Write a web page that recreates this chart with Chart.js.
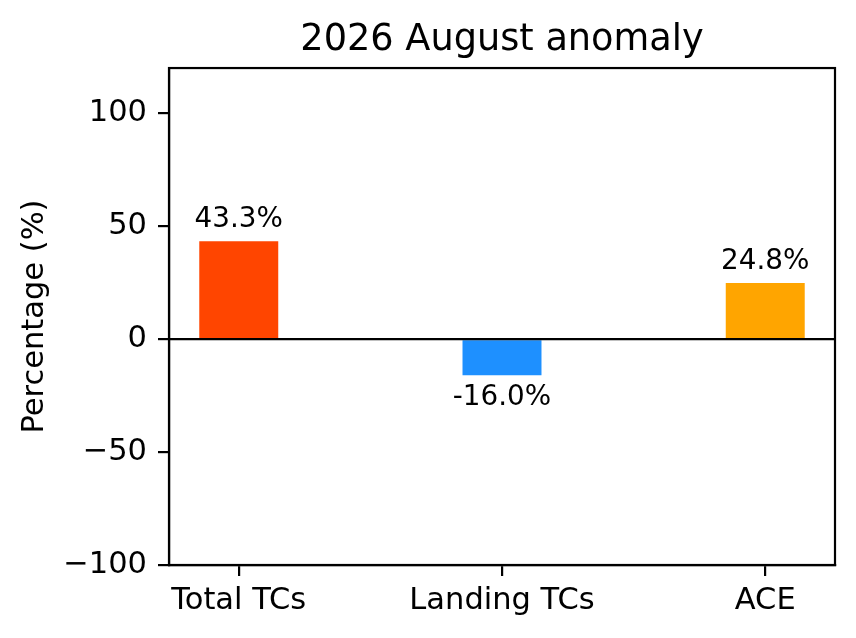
<!DOCTYPE html>
<html lang="en">
<head>
    <meta charset="UTF-8">
    <title>2026 August anomaly</title>
    <script src="https://cdn.jsdelivr.net/npm/chart.js"></script>
    <style>
        body { margin: 0; background: #fff; }
        #wrap { width: 856px; height: 638px; }
    </style>
</head>
<body>
    <div id="wrap"><canvas id="anomalyChart"></canvas></div>

    <script>
        const categories = ['Total TCs', 'Landing TCs', 'ACE'];
        const anomalies = [43.3, -16.0, 24.8];
        const barColors = ['#FF4500', '#1E90FF', '#FFA500'];
        const yTicks = [-100, -50, 0, 50, 100];

        const FONT = '"DejaVu Sans", sans-serif';
        const LW = 2.2;
        Chart.defaults.font.family = FONT;

        // frame, zero line and value labels
        const extras = {
            id: 'extras',
            afterDatasetsDraw(chart) {
                const ctx = chart.ctx;
                const area = chart.chartArea;
                const y0 = chart.scales.y.getPixelForValue(0);
                ctx.save();
                ctx.strokeStyle = '#000';
                ctx.lineWidth = LW;
                ctx.beginPath();
                ctx.moveTo(area.left, y0);
                ctx.lineTo(area.right, y0);
                ctx.stroke();
                ctx.strokeRect(area.left, area.top, area.right - area.left, area.bottom - area.top);

                ctx.fillStyle = '#000';
                ctx.font = '27.8px ' + FONT;
                ctx.textAlign = 'center';
                ctx.textBaseline = 'alphabetic';
                chart.getDatasetMeta(0).data.forEach((bar, i) => {
                    const v = anomalies[i];
                    const txt = v.toFixed(1) + '%';
                    if (v >= 0) {
                        ctx.fillText(txt, bar.x, bar.y - 14);
                    } else {
                        ctx.fillText(txt, bar.x, bar.y + 30);
                    }
                });
                ctx.restore();
            }
        };

        new Chart(document.getElementById('anomalyChart'), {
            type: 'bar',
            data: {
                datasets: [{
                    data: anomalies.map((v, i) => ({ x: i, y: v })),
                    backgroundColor: barColors,
                    borderWidth: 0,
                    barPercentage: 0.3,
                    categoryPercentage: 1
                }]
            },
            options: {
                responsive: true,
                maintainAspectRatio: false,
                animation: false,
                layout: { padding: { left: 0, right: 21, top: 0, bottom: 0 } },
                plugins: {
                    legend: { display: false },
                    tooltip: { enabled: false },
                    title: {
                        display: true,
                        fullSize: false,
                        text: '2026 August anomaly',
                        color: '#000',
                        font: { family: FONT, size: 36.7, weight: 'normal', lineHeight: 1.2 },
                        padding: { top: 18, bottom: 6 }
                    }
                },
                scales: {
                    x: {
                        type: 'linear',
                        min: -0.265,
                        max: 2.265,
                        offset: false,
                        afterBuildTicks: s => { s.ticks = categories.map((_, i) => ({ value: i })); },
                        afterFit: s => { s.height = 73; },
                        ticks: {
                            color: '#000',
                            font: { family: FONT, size: 30.5 },
                            padding: 7,
                            maxRotation: 0,
                            autoSkip: false,
                            callback: v => categories[v]
                        },
                        grid: { offset: false, drawOnChartArea: false, color: '#000', lineWidth: LW, tickLength: 11 },
                        border: { color: '#000', width: LW }
                    },
                    y: {
                        min: -100,
                        max: 120,
                        afterBuildTicks: s => { s.ticks = yTicks.map(v => ({ value: v })); },
                        afterFit: s => { s.width = 169; },
                        ticks: {
                            color: '#000',
                            font: { family: FONT, size: 30.5 },
                            padding: 11,
                            callback: v => String(v).replace('-', '\u2212')
                        },
                        grid: { drawOnChartArea: false, color: '#000', lineWidth: LW, tickLength: 11 },
                        border: { color: '#000', width: LW },
                        title: {
                            display: true,
                            text: 'Percentage (%)',
                            color: '#000',
                            font: { family: FONT, size: 30.5, lineHeight: 1.2 },
                            padding: { top: 17, bottom: 0 }
                        }
                    }
                }
            },
            plugins: [extras]
        });
    </script>
</body>
</html>
